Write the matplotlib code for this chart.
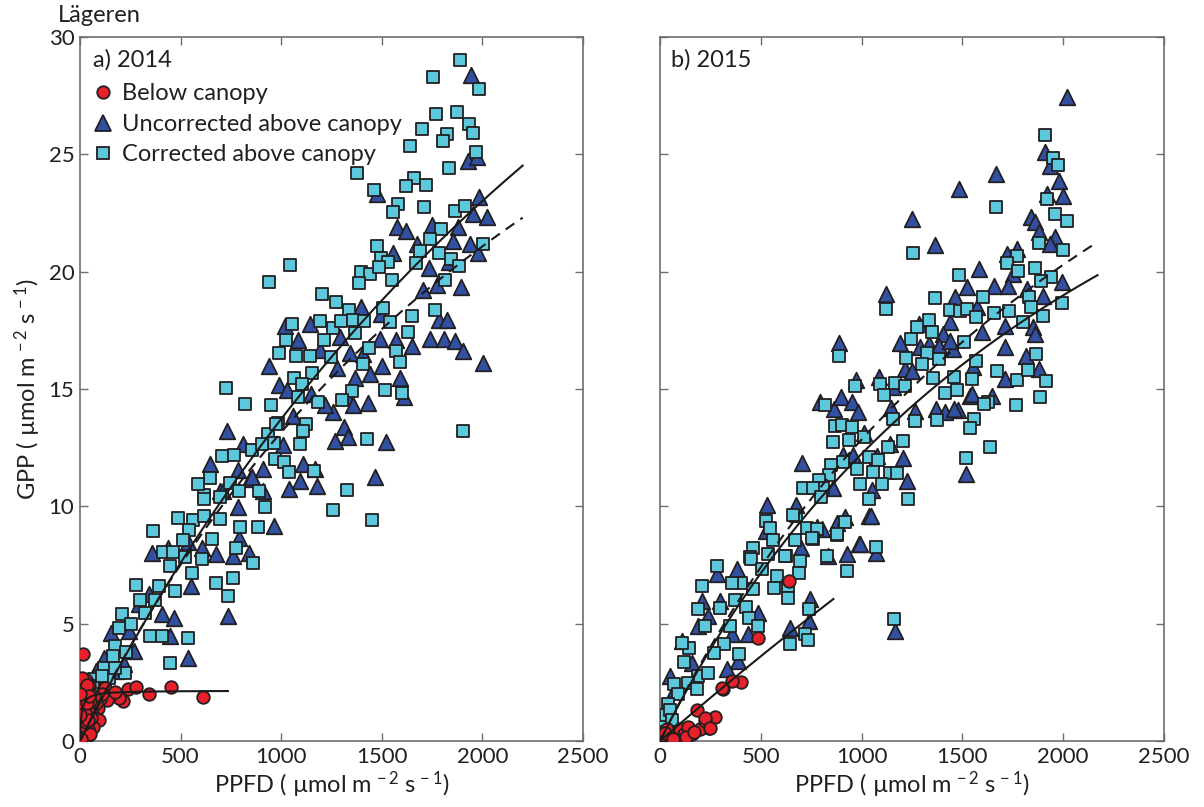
import numpy as np
import matplotlib
matplotlib.use("Agg")
import matplotlib.pyplot as plt
from matplotlib.lines import Line2D

plt.rcParams["font.family"] = ["Lato", "DejaVu Sans"]
plt.rcParams["mathtext.fontset"] = "custom"
plt.rcParams["mathtext.rm"] = "Lato"
plt.rcParams["mathtext.it"] = "Lato:italic"
plt.rcParams["mathtext.bf"] = "Lato:bold"

# ---- 2014 ----
below_2014 = [(16, 3.7), (124, 2.27), (240, 2.2), (278, 2.3), (344, 2.02), (451, 2.3), (613, 1.88),
              (215, 1.71), (195, 1.82), (149, 1.92), (134, 1.75), (175, 2.1), (100, 1.8), (110, 2.0),
              (90, 1.4), (80, 1.6), (70, 1.9), (60, 1.2), (75, 1.0), (95, 0.9), (65, 0.6),
              (2, 0.0), (4, 0.2), (6, 0.4), (3, 0.6), (8, 0.8), (5, 1.0), (10, 1.2), (4, 1.4),
              (7, 1.6), (3, 1.8), (9, 2.0), (5, 2.2), (12, 2.4), (8, 2.6), (14, 0.1), (16, 0.5),
              (18, 0.9), (15, 1.3), (20, 1.7), (17, 2.1), (22, 2.5), (24, 0.3), (26, 0.7), (28, 1.1),
              (25, 1.5), (30, 1.9), (27, 2.3), (32, 2.6), (34, 0.2), (36, 0.9), (38, 1.4), (35, 1.8),
              (40, 2.2), (42, 0.5), (45, 1.2), (48, 1.7), (44, 2.4), (52, 2.0), (55, 1.0), (12, 0.0),
              (22, 0.0), (30, 0.4), (50, 0.3), (6, 0.1), (11, 0.7), (13, 1.5), (19, 2.3), (23, 1.2),
              (9, 2.7), (29, 0.8), (33, 1.6), (37, 2.4), (41, 0.9), (46, 1.9), (2, 1.1), (1, 2.0)]

uncorr_2014 = [(1943, 28.4), (1927, 24.7), (1971, 24.9), (1475, 23.3), (1985, 23.2), (1952, 22.45),
               (2024, 22.35), (1574, 21.9), (1620, 21.75), (1748, 22.0), (1880, 21.9), (1855, 21.3),
               (1938, 21.2), (1557, 20.8), (1673, 21.2), (1733, 20.15), (1836, 20.4), (1980, 20.8),
               (1703, 19.2), (1773, 19.45), (1894, 19.35), (1397, 18.5), (1494, 18.2), (1786, 17.95),
               (1822, 17.95), (1019, 17.7), (1143, 17.75), (1085, 17.1), (1292, 17.2), (1491, 17.15),
               (1569, 17.1), (1652, 16.85), (1740, 17.15), (1811, 17.15), (1864, 17.05), (1905, 16.6),
               (2005, 16.1), (1193, 16.65), (1342, 16.55), (1408, 16.5), (1499, 16.0), (1276, 15.9),
               (941, 16.0), (1441, 15.65), (1367, 15.45), (1590, 15.45), (989, 15.15), (1031, 14.95),
               (1146, 14.8), (1325, 14.65), (1610, 14.65), (1256, 14.0), (1358, 14.3), (1430, 14.4),
               (1218, 14.3), (1060, 13.85), (1312, 13.4), (1267, 12.8), (1334, 12.95), (1519, 12.75),
               (729, 13.2), (1010, 12.6), (812, 12.65), (1466, 11.25), (646, 11.8), (787, 11.55),
               (911, 11.6), (1110, 11.8), (1168, 11.6), (1093, 11.1), (1176, 10.85), (1040, 10.75),
               (845, 11.15), (696, 10.65), (911, 10.65), (855, 11.23), (709, 10.66), (784, 9.98),
               (966, 9.17), (792, 8.67), (838, 8.03), (676, 7.96), (759, 7.89), (606, 8.24), (358, 8.03),
               (436, 8.24), (535, 8.46), (552, 6.61), (737, 5.33), (408, 5.4), (469, 5.26), (295, 5.83),
               (344, 6.26), (449, 4.48), (242, 4.69), (154, 4.62), (270, 3.84), (535, 3.55), (220, 3.27),
               (121, 3.55), (80, 2.99), (179, 2.99), (129, 2.27), (5, 0.05), (10, 0.2), (15, 0.1),
               (20, 0.3), (8, 0.4), (25, 0.5), (30, 0.15)]

corr_2014 = [(1890, 29.0), (1753, 28.3), (1983, 27.8), (1770, 26.7), (1875, 26.8), (1935, 26.3),
             (1952, 25.9), (1701, 26.1), (1826, 25.85), (1804, 25.55), (1640, 25.35), (1967, 25.1),
             (1832, 24.4), (1375, 24.2), (1660, 24.0), (1619, 23.65), (1720, 23.7), (1460, 23.5),
             (1579, 22.9), (1557, 22.55), (1710, 22.75), (1862, 22.6), (1913, 22.8), (1794, 21.8),
             (1740, 21.4), (2005, 21.2), (1478, 21.1), (1692, 20.9), (1784, 20.8), (1498, 20.6),
             (1529, 20.4), (1842, 20.55), (1885, 20.25), (1397, 20.0), (1443, 19.9), (1488, 20.2),
             (1670, 20.35), (1044, 20.3), (941, 19.55), (1549, 19.66), (1387, 19.5), (1814, 19.65),
             (1204, 19.05), (1274, 18.7), (1337, 18.35), (1508, 18.45), (1650, 18.1), (1763, 18.35),
             (1052, 17.75), (1193, 17.9), (1259, 17.6), (1296, 17.9), (1357, 17.95), (1413, 17.9),
             (1539, 17.85), (1024, 17.1), (1214, 17.1), (1367, 17.4), (1630, 17.45), (989, 16.55),
             (1074, 16.4), (1143, 16.4), (1248, 16.35), (1438, 16.75), (1569, 16.6), (1408, 16.05),
             (1590, 16.15), (1155, 15.7), (1062, 15.45), (1105, 15.2), (727, 15.05), (1350, 14.9),
             (1518, 14.95), (1599, 14.85), (1085, 14.65), (1185, 14.45), (1304, 14.55), (818, 14.35),
             (949, 14.3), (1905, 13.2), (1123, 13.5), (1110, 13.2), (983, 13.55), (936, 13.1),
             (964, 12.7), (1093, 12.65), (1428, 12.85), (704, 12.15), (765, 12.2), (853, 12.4),
             (903, 12.65), (969, 12.0), (1014, 11.9), (1040, 11.45), (1164, 11.5), (646, 11.2),
             (746, 11.0), (792, 10.65), (891, 10.65), (1325, 10.7), (616, 10.5), (1452, 9.4),
             (1258, 9.85), (974, 13.5), (921, 9.98), (585, 10.95), (618, 10.3), (696, 10.4), (361, 8.96),
             (485, 9.52), (563, 9.4), (543, 8.98), (696, 9.45), (618, 9.6), (795, 9.13), (883, 9.13),
             (656, 8.6), (514, 8.56), (414, 8.04), (464, 8.04), (522, 7.85), (775, 8.24), (606, 7.75),
             (858, 7.6), (447, 7.46), (557, 7.14), (676, 6.75), (759, 6.96), (736, 6.2), (278, 6.65),
             (391, 6.6), (472, 6.4), (298, 6.0), (374, 6.0), (325, 5.47), (209, 5.4), (253, 4.97),
             (195, 4.83), (348, 4.48), (408, 4.48), (537, 4.38), (175, 4.05), (229, 3.81), (166, 3.62),
             (447, 3.34), (225, 2.91), (121, 3.13), (96, 2.73), (146, 2.7), (71, 2.63), (66, 2.35),
             (108, 2.77), (174, 3.13), (40, 2.3), (60, 2.0), (30, 1.5), (20, 0.8), (10, 0.3), (5, 0.1)]

# ---- 2015 ----
below_2015 = [(641, 6.8), (488, 4.41), (403, 2.52), (359, 2.56), (314, 2.2), (273, 1.02), (245, 0.57),
              (182, 1.31), (198, 0.5), (157, 0.28), (223, 0.85), (74, 0.14), (306, 2.27), (223, 0.99),
              (248, 0.57), (5, 0.0), (10, 0.1), (20, 0.2), (30, 0.05), (40, 0.3), (50, 0.15), (60, 0.4),
              (80, 0.2), (100, 0.5), (120, 0.3), (140, 0.6), (15, 0.4), (35, 0.5), (90, 0.05), (110, 0.0),
              (130, 0.15), (170, 0.4), (8, 0.25), (25, 0.35), (65, 0.1)]

uncorr_2015 = [(2020, 27.43), (1910, 25.09), (1934, 24.52), (1667, 24.17), (1485, 23.52), (1981, 23.88),
               (1921, 23.31), (2001, 23.24), (1252, 22.25), (1839, 22.35), (1860, 22.1), (1882, 21.68),
               (1959, 21.46), (1934, 21.18), (1364, 21.14), (1720, 20.75), (1769, 20.96), (1584, 20.1),
               (1753, 19.9), (1993, 19.54), (1524, 19.33), (1657, 19.4), (1728, 19.4), (1819, 19.26),
               (1901, 18.98), (1121, 19.05), (1463, 18.9), (1571, 18.48), (1711, 17.7), (1438, 17.84),
               (1852, 17.63), (1286, 17.77), (888, 16.94), (972, 15.38), (1088, 15.52), (1157, 15.07),
               (1405, 17.34), (1190, 16.94), (1290, 16.77), (1336, 16.91), (1386, 16.84), (1455, 16.7),
               (1596, 17.41), (1554, 15.92), (1438, 17.06), (1215, 15.85), (1248, 15.78), (1538, 14.71),
               (1645, 14.71), (1477, 14.1), (1369, 14.14), (1414, 14.0), (1265, 14.07), (1144, 14.21),
               (794, 14.43), (863, 14.14), (896, 14.67), (951, 14.43), (984, 14.0), (1012, 13.14),
               (1141, 12.65), (909, 12.2), (959, 12.2), (1078, 12.15), (1204, 12.08), (1227, 11.09),
               (706, 11.83), (860, 10.8), (1050, 10.69), (1038, 9.6), (1518, 11.37), (532, 10.06),
               (675, 10.06), (526, 8.96), (777, 9.1), (876, 9.31), (918, 9.55), (989, 8.41), (698, 8.24),
               (926, 7.99), (1071, 8.03), (1460, 14.14), (1880, 15.85), (1816, 16.42), (1860, 17.34),
               (1711, 16.77), (1711, 15.42), (1548, 14.8), (1047, 9.6), (802, 9.03), (992, 8.38),
               (833, 7.89), (380, 7.32), (281, 7.11), (207, 5.97), (298, 5.97), (488, 5.47), (356, 4.55),
               (388, 3.41), (438, 4.55), (645, 4.83), (744, 6.04), (739, 5.12), (1167, 4.69), (108, 4.26),
               (157, 3.34), (50, 2.77), (74, 2.2), (240, 5.33), (190, 4.9), (331, 3.06), (5, 0.1),
               (15, 0.3), (25, 0.6), (40, 1.0), (10, 0.0)]

corr_2015 = [(1910, 25.84), (1951, 24.85), (1973, 24.56), (1921, 23.1), (1667, 22.77), (1961, 22.46),
             (2020, 22.17), (1881, 21.21), (1997, 20.92), (1769, 20.68), (1720, 20.35), (1253, 20.8),
             (1777, 20.01), (1860, 20.16), (1485, 19.87), (1938, 19.76), (1888, 19.59), (1364, 18.88),
             (1601, 18.9), (1832, 18.93), (1438, 18.37), (1488, 18.34), (1524, 18.41), (1993, 18.65),
             (1733, 18.34), (1839, 18.51), (1658, 18.24), (1567, 18.05), (1901, 18.12), (1121, 18.39),
             (1336, 17.94), (1799, 17.84), (1273, 17.63), (888, 16.42), (967, 15.14), (1091, 15.21),
             (1111, 14.75), (1166, 15.24), (1215, 15.14), (1348, 17.45), (1244, 17.13), (1220, 16.32),
             (1323, 16.52), (1386, 16.28), (1298, 16.06), (1508, 16.99), (1567, 16.2), (1458, 15.52),
             (1353, 15.47), (1546, 15.42), (1475, 14.95), (1414, 14.81), (1629, 14.43), (1670, 15.78),
             (1558, 13.72), (1538, 13.33), (1637, 12.51), (1518, 12.08), (1154, 13.72), (1265, 13.62),
             (1372, 13.67), (818, 14.33), (868, 13.43), (901, 13.46), (951, 13.39), (860, 12.76),
             (939, 12.81), (1012, 12.96), (1204, 12.79), (1132, 12.51), (906, 11.91), (979, 11.59),
             (1038, 12.11), (1083, 11.97), (1058, 11.48), (1141, 11.4), (1174, 11.44), (1100, 10.95),
             (992, 10.97), (847, 11.77), (840, 11.34), (790, 11.12), (807, 10.78), (708, 10.8),
             (760, 10.8), (797, 10.38), (1038, 10.31), (1232, 10.31), (675, 9.6), (526, 9.38),
             (546, 9.07), (728, 9.07), (777, 9.03), (918, 9.35), (879, 8.78), (757, 8.6), (670, 8.56),
             (562, 8.56), (463, 8.24), (1071, 8.27), (625, 7.89), (446, 7.82), (827, 7.89),
             (1768, 14.33), (1607, 14.38), (1161, 5.22), (1769, 15.4), (1825, 15.8), (1865, 16.5),
             (1913, 15.35), (1885, 14.64), (661, 9.64), (876, 8.81), (752, 8.63), (534, 7.96),
             (620, 7.89), (694, 7.68), (450, 7.74), (281, 7.46), (504, 7.32), (402, 6.75), (356, 6.75),
             (579, 7.04), (689, 7.14), (926, 7.25), (463, 6.47), (636, 6.61), (567, 6.51), (210, 6.61),
             (636, 6.11), (298, 5.66), (372, 6.0), (190, 5.62), (425, 5.71), (442, 5.26), (347, 4.9),
             (223, 4.9), (741, 5.62), (719, 4.58), (736, 4.29), (645, 4.12), (485, 4.9), (319, 4.15),
             (269, 3.77), (145, 3.98), (108, 4.19), (392, 3.7), (121, 3.38), (190, 2.77), (240, 2.91),
             (71, 2.44), (140, 2.49), (182, 2.2), (88, 1.99), (41, 1.56), (20, 0.8), (10, 0.4),
             (30, 1.1), (50, 1.3), (15, 0.2), (60, 0.9), (5, 0.1)]

# light-response fits, GPP = a*Q*Pmax / (a*Q + Pmax): (Q_end, a, Pmax, linestyle)
fits_2014 = [(2200, 0.0170, 71.2, "-"), (2200, 0.0175, 53.0, "--"), (735, 0.30, 2.15, "-")]
fits_2015 = [(2170, 0.0172, 42.4, "-"), (2170, 0.0175, 48.3, "--"), (860, 0.0075, 97.6, "-")]

RED = "#e8202a"
BLUE = "#3150a2"
CYAN = "#5cc8db"
EDGE = "#231f20"
AXCOL = "#6d6e71"
TXT = "#231f20"
FS = 17
UNIT = "( µmol m$^{\\,-2}$ s$^{\\,-1}$)"


def light_response(q, a, pmax):
    return a * q * pmax / (a * q + pmax)


def draw_panel(ax, below, uncorr, corr, fits):
    u = np.array(uncorr)
    c = np.array(corr)
    b = np.array(below)
    ax.scatter(u[:, 0], u[:, 1], marker="^", s=125, c=BLUE, edgecolors=EDGE, linewidths=1.3, zorder=2)
    ax.scatter(c[:, 0], c[:, 1], marker="s", s=78, c=CYAN, edgecolors=EDGE, linewidths=1.3, zorder=3)
    ax.scatter(b[:, 0], b[:, 1], marker="o", s=82, c=RED, edgecolors=EDGE, linewidths=1.3, zorder=4)
    for q_end, a, pmax, style in fits:
        q = np.linspace(0, q_end, 200)
        line, = ax.plot(q, light_response(q, a, pmax), ls=style, color="#1a1a1a", lw=1.5, zorder=5)
        if style == "--":
            line.set_dashes((5, 3.5))
    ax.set_xlim(0, 2500)
    ax.set_ylim(0, 30)
    ax.set_xticks(np.arange(0, 2501, 500))
    ax.set_yticks(np.arange(0, 31, 5))
    ax.tick_params(direction="in", top=True, right=True, length=6, width=1, color=AXCOL,
                   labelsize=16, labelcolor=TXT, pad=4)
    for sp in ax.spines.values():
        sp.set_color(AXCOL)
        sp.set_linewidth(1.2)
    ax.set_xlabel("PPFD " + UNIT, fontsize=FS, color=TXT, labelpad=2)


fig = plt.figure(figsize=(12.04, 8.07), dpi=100)
ax1 = fig.add_axes([80 / 1204, 1 - 741 / 807, 503 / 1204, 704 / 807])
ax2 = fig.add_axes([660 / 1204, 1 - 741 / 807, 504 / 1204, 704 / 807])

draw_panel(ax1, below_2014, uncorr_2014, corr_2014, fits_2014)
draw_panel(ax2, below_2015, uncorr_2015, corr_2015, fits_2015)
ax2.set_yticklabels([])

ax1.set_ylabel("GPP " + UNIT, fontsize=FS, color=TXT, labelpad=4)
ax1.text(0.026, 0.967, "a) 2014", transform=ax1.transAxes, fontsize=FS, color=TXT, va="center")
ax2.text(0.022, 0.967, "b) 2015", transform=ax2.transAxes, fontsize=FS, color=TXT, va="center")
fig.text(58 / 1204, 1 - 16 / 807, "Lägeren", fontsize=FS, color=TXT, va="center")

handles = [
    Line2D([], [], ls="none", marker="o", ms=9, mfc=RED, mec=EDGE, mew=1.3),
    Line2D([], [], ls="none", marker="^", ms=11, mfc=BLUE, mec=EDGE, mew=1.3),
    Line2D([], [], ls="none", marker="s", ms=8.8, mfc=CYAN, mec=EDGE, mew=1.3),
]
labels = ["Below canopy", "Uncorrected above canopy", "Corrected above canopy"]
ax1.legend(handles, labels, loc="upper left", bbox_to_anchor=(0.022, 0.934), frameon=False,
           fontsize=FS, handlelength=1.0, handletextpad=0.3, labelspacing=0.4,
           borderaxespad=0.0, borderpad=0.0, labelcolor=TXT)

fig.savefig("out.png", dpi=100)
